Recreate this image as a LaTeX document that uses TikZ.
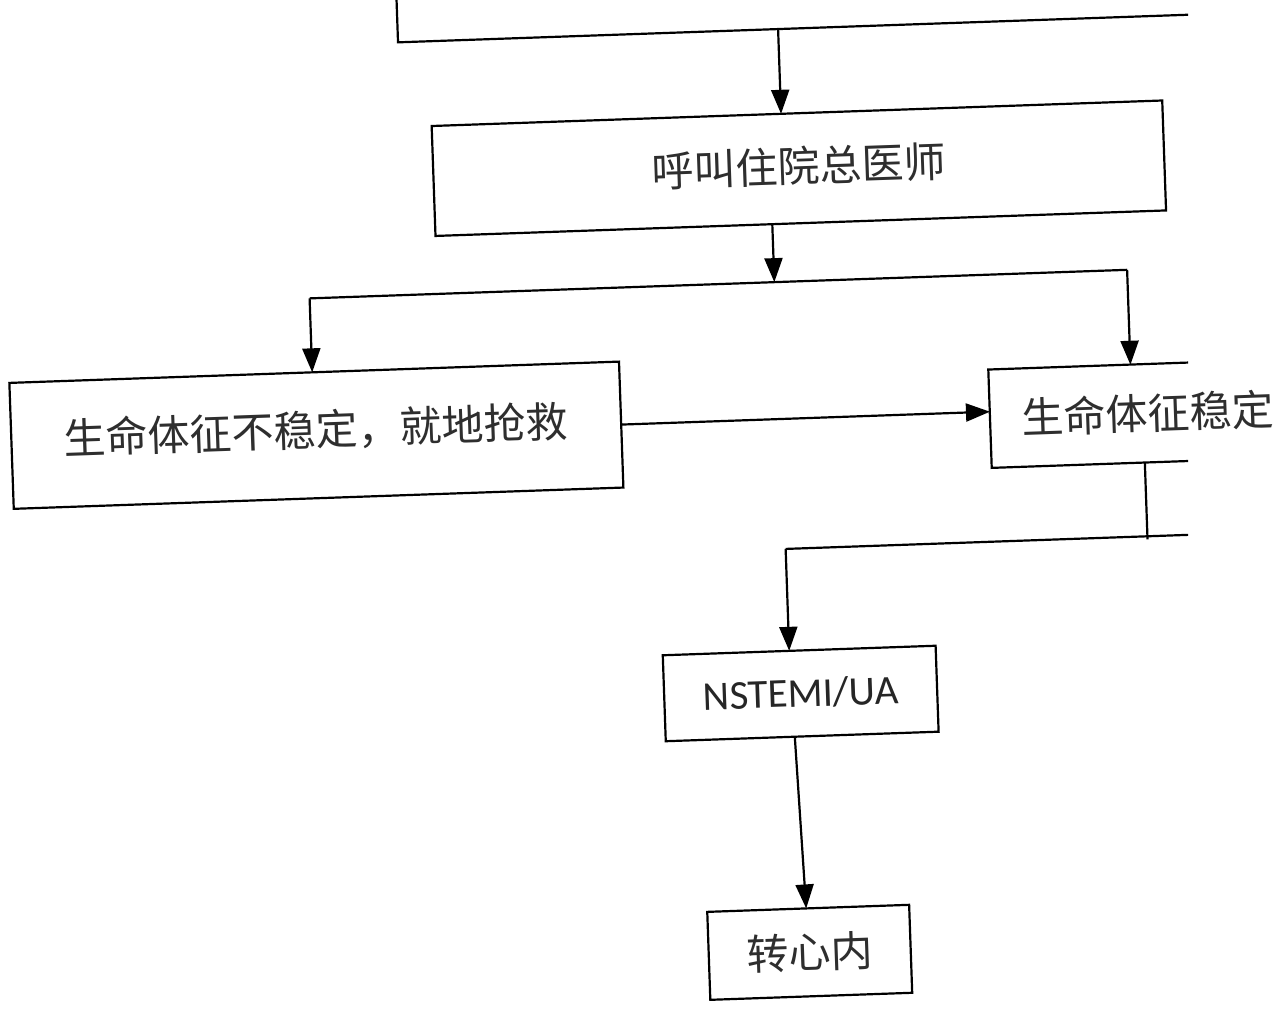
\documentclass[tikz,border=0pt]{standalone}
\usepackage{fontspec}
\newfontfamily\cjk{Noto Sans CJK SC}
\newfontfamily\lat{Carlito}
\usetikzlibrary{arrows.meta}
\begin{document}
\begin{tikzpicture}[x=1pt,y=1pt,
  ln/.style={line width=2.2pt, draw=black},
  arr/.style={ln,-{Triangle[length=24pt,width=18pt]}},
  frame/.style={ln, rectangle, inner sep=0pt},
  ghost/.style={rectangle, inner sep=0pt},
  cjktext/.style={font=\cjk\fontsize{42pt}{50pt}\selectfont, text=black!82},
  lattext/.style={font=\lat\fontsize{41pt}{48pt}\selectfont, text=black!85}]
\useasboundingbox[fill=white] (0,0) rectangle (1278,-1009);
\begin{scope}[rotate around={2:(0,0)}, transform shape]
  % boxes
  \node[ghost, minimum width=903pt, minimum height=156pt] (top) at (848,22) {};
  \node[frame, cjktext, minimum width=731pt, minimum height=110pt] (call) at (792.5,-196) {\raisebox{8pt}{呼叫住院总医师}};
  \node[frame, cjktext, minimum width=610pt, minimum height=126pt] (unst) at (301,-446) {\raisebox{15pt}{生命体征不稳定，就地抢救}};
  \node[ghost, cjktext, minimum width=315pt, minimum height=98pt] (stab) at (1132.5,-453) {\raisebox{3pt}{生命体征稳定}};
  \node[frame, lattext, minimum width=273pt, minimum height=86pt] (nst) at (776,-721) {\raisebox{-3pt}{NSTEMI/UA}};
  \node[frame, cjktext, minimum width=202pt, minimum height=88pt] (zxn) at (776,-980) {转心内};
  % connector points
  \coordinate (a1s) at (776.6,-56);
  \coordinate (a1e) at (776.6,-141);
  \coordinate (a2s) at (764,-251);
  \coordinate (bm) at (764,-309);
  \coordinate (bl) at (299,-309);
  \coordinate (br) at (1117,-309);
  \coordinate (ble) at (299,-383);
  \coordinate (bre) at (1117,-404);
  \coordinate (hs) at (606,-446);
  \coordinate (he) at (975,-446);
  \coordinate (v1) at (1128,-502);
  \coordinate (v2) at (1128,-579);
  \coordinate (h1) at (766,-576);
  \coordinate (h2) at (1330,-576);
  \coordinate (d1e) at (766,-678);
  \coordinate (n1s) at (768.6,-764);
  \coordinate (n1e) at (774,-936);
\end{scope}
% frames cut at the right edge of the scan
\begin{scope}
  \clip (-10,10) rectangle (1188,-1020);
  \draw[ln] (top.north west) -- (top.south west) -- (top.south east) -- (top.north east);
  \draw[ln] (stab.north east) -- (stab.north west) -- (stab.south west) -- (stab.south east);
  \draw[ln] (h1) -- (h2);
  \draw[ln] (v1) -- (v2);
\end{scope}
% connectors
\draw[arr] (a1s) -- (a1e);
\draw[arr] (a2s) -- (bm);
\draw[ln] (bl) -- (br);
\draw[arr] (bl) -- (ble);
\draw[arr] (br) -- (bre);
\draw[arr] (hs) -- (he);
\draw[arr] (h1) -- (d1e);
\draw[arr] (n1s) -- (n1e);
\end{tikzpicture}
\end{document}
